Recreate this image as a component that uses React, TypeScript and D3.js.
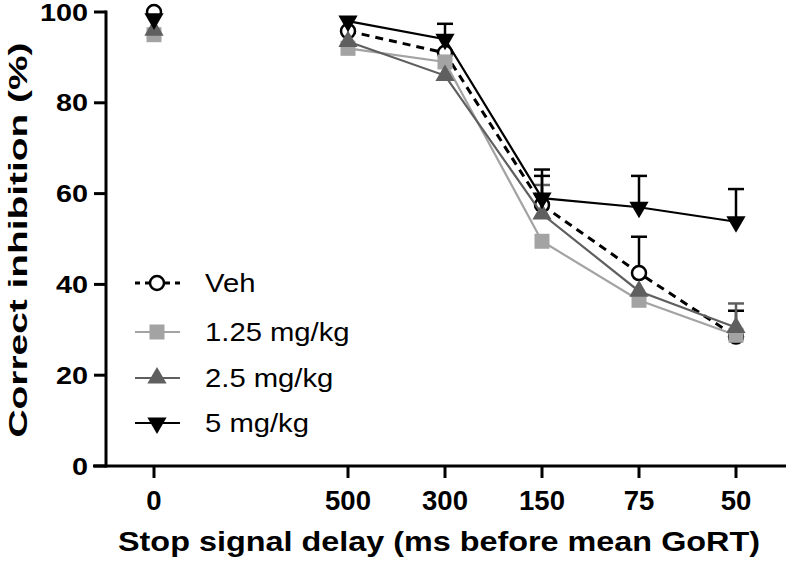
import React from "react";
import * as d3 from "d3";

const categories = ["0", "500", "300", "150", "75", "50"];
const slots = [0, 2, 3, 4, 5, 6];
const yTicks = [0, 20, 40, 60, 80, 100];

const vehMean = [100, 95.8, 91, 57.5, 42.5, 28.5];
const vehSem = [0, 0, 0, 6.4, 8, 5.7];
const low125Mean = [95, 92, 89, 49.5, 36.5, 28.8];
const low125Sem = [0, 0, 0, 0, 0, 0];
const mid25Mean = [96, 93.5, 86, 55.5, 38.5, 30.5];
const mid25Sem = [0, 0, 0, 6.4, 0, 5.3];
const high5Mean = [98.5, 98, 94, 59, 57, 53.8];
const high5Sem = [0, 0, 3.4, 6.3, 6.9, 7.2];

const seriesNames = ["Veh", "1.25 mg/kg", "2.5 mg/kg", "5 mg/kg"];

type S = {
  name: string;
  mean: number[];
  sem: number[];
  color: string;
  marker: "circle" | "square" | "up" | "down";
  dash?: string;
  width: number;
};

const series: S[] = [
  { name: seriesNames[0], mean: vehMean, sem: vehSem, color: "#000", marker: "circle", dash: "8,6", width: 3 },
  { name: seriesNames[1], mean: low125Mean, sem: low125Sem, color: "#a3a3a3", marker: "square", width: 2.2 },
  { name: seriesNames[2], mean: mid25Mean, sem: mid25Sem, color: "#5f5f5f", marker: "up", width: 2.2 },
  { name: seriesNames[3], mean: high5Mean, sem: high5Sem, color: "#000", marker: "down", width: 2.2 },
];

const x = d3.scaleLinear().domain([-0.5, 6.5]).range([105.5, 784.5]);
const y = d3.scaleLinear().domain([0, 100]).range([466, 12]);

const FONT = "'Liberation Sans', Arial, sans-serif";

function Marker({ s, cx, cy }: { s: S; cx: number; cy: number }) {
  if (s.marker === "circle")
    return <circle cx={cx} cy={cy} r={7} fill="#fff" stroke="#000" strokeWidth={2.5} />;
  if (s.marker === "square")
    return <rect x={cx - 7.5} y={cy - 7.5} width={15} height={15} fill={s.color} />;
  const sym = d3.symbol().type(d3.symbolTriangle).size(160)();
  return (
    <path
      d={sym || ""}
      transform={`translate(${cx},${cy}) rotate(${s.marker === "down" ? 180 : 0})`}
      fill={s.color}
    />
  );
}

export default function App() {
  const line = d3
    .line<number>()
    .defined((_, i) => i > 0)
    .x((_, i) => x(slots[i]))
    .y((d) => y(d));

  const legendY = [283, 332, 378, 423];

  return (
    <svg width={788} height={561} style={{ display: "block", position: "absolute", left: 0, top: 0 }}>
      <rect width={788} height={561} fill="#fff" />
      {/* axes */}
      <line x1={106} x2={106} y1={10.5} y2={467.5} stroke="#000" strokeWidth={3} />
      <line x1={93} x2={786} y1={466} y2={466} stroke="#000" strokeWidth={3} />
      {yTicks.map((t) => (
        <g key={t}>
          <line x1={94} x2={106} y1={y(t)} y2={y(t)} stroke="#000" strokeWidth={3} />
          <text
            transform={`translate(88,${y(t) + 8.5}) scale(1.2,1)`}
            textAnchor="end"
            fontFamily={FONT}
            fontWeight="bold"
            fontSize={24}
          >
            {t}
          </text>
        </g>
      ))}
      {categories.map((c, i) => (
        <g key={c}>
          <line x1={x(slots[i])} x2={x(slots[i])} y1={466} y2={478} stroke="#000" strokeWidth={3} />
          <text
            transform={`translate(${x(slots[i])},510) scale(1.02,1)`}
            textAnchor="middle"
            fontFamily={FONT}
            fontWeight="bold"
            fontSize={27}
          >
            {c}
          </text>
        </g>
      ))}
      <text
        x={439}
        y={551}
        textAnchor="middle"
        fontFamily={FONT}
        fontWeight="bold"
        fontSize={27}
        textLength={642}
        lengthAdjust="spacingAndGlyphs"
      >
        Stop signal delay (ms before mean GoRT)
      </text>
      <text
        transform="translate(27,240) rotate(-90)"
        textAnchor="middle"
        fontFamily={FONT}
        fontWeight="bold"
        fontSize={26}
        textLength={395}
        lengthAdjust="spacingAndGlyphs"
      >
        Correct inhibition (%)
      </text>

      {/* series */}
      {series.map((s) => (
        <g key={s.name}>
          <path d={line(s.mean) || ""} fill="none" stroke={s.color} strokeWidth={s.width} strokeDasharray={s.dash} />
          {s.mean.map((m, i) =>
            s.sem[i] > 0 ? (
              <g key={i}>
                <line x1={x(slots[i])} x2={x(slots[i])} y1={y(m)} y2={y(m + s.sem[i])} stroke={s.color} strokeWidth={2.5} />
                <line x1={x(slots[i]) - 8} x2={x(slots[i]) + 8} y1={y(m + s.sem[i])} y2={y(m + s.sem[i])} stroke={s.color} strokeWidth={2.5} />
              </g>
            ) : null
          )}
          {s.mean.map((m, i) => (
            <Marker key={i} s={s} cx={x(slots[i])} cy={y(m)} />
          ))}
        </g>
      ))}

      {/* legend */}
      {series.map((s, i) => (
        <g key={s.name}>
          <line x1={135} x2={180} y1={legendY[i]} y2={legendY[i]} stroke={s.color} strokeWidth={s.width} strokeDasharray={s.dash ? "5,5" : undefined} />
          <Marker s={s} cx={157} cy={legendY[i]} />
          <text
            transform={`translate(205,${legendY[i] + 9}) scale(1.17,1)`}
            fontFamily={FONT}
            fontSize={25}
          >
            {s.name}
          </text>
        </g>
      ))}
    </svg>
  );
}
